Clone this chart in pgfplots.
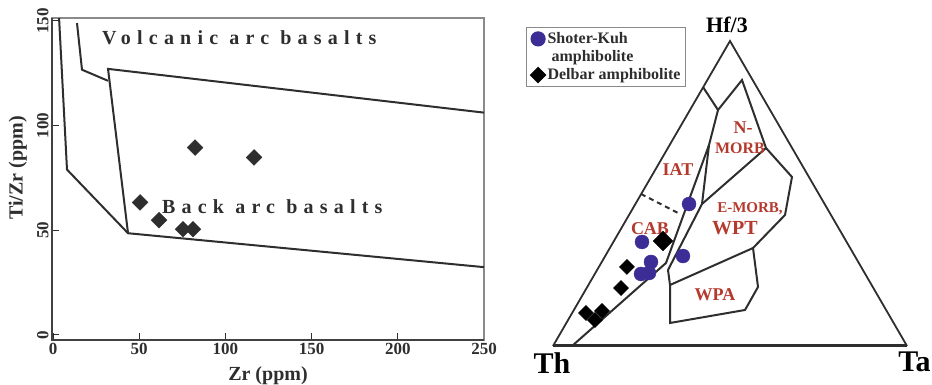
\documentclass[border=0pt]{standalone}
\usepackage{fontspec}
\setmainfont{Liberation Serif}
\newfontfamily\spaced[LetterSpace=31]{Liberation Serif}
\usepackage{pgfplots}
\pgfplotsset{compat=1.18}
\definecolor{dk}{HTML}{2E2E2E}
\definecolor{fr}{HTML}{8A8A8A}
\definecolor{blu}{HTML}{3B2C96}
\definecolor{rd}{HTML}{B5392D}
\begin{document}
\begin{tikzpicture}
\useasboundingbox (0,0) rectangle (932bp,385bp);
% ---------------- left: Ti/Zr vs Zr ----------------
\begin{axis}[at={(52bp,45bp)}, anchor=south west, scale only axis,
  width=432bp, height=322bp,
  xmin=-0.6, xmax=250, ymin=-2.4, ymax=151.4,
  xtick={0,50,100,150,200,250}, ytick={0,50,100,150},
  tick pos=left, tick align=inside, major tick length=7bp,
  axis line style={fr, line width=1.2bp},
  tick style={dk, line width=1bp},
  ticklabel style={font=\bfseries\fontsize{17bp}{17bp}\selectfont, text=dk},
  yticklabel style={rotate=90, anchor=south},
  /pgf/number format/assume math mode=true,
  xlabel={Zr (ppm)}, ylabel={Ti/Zr (ppm)},
  label style={font=\bfseries\fontsize{20bp}{20bp}\selectfont, text=dk},
  xlabel style={at={(axis description cs:0.5,-0.112)}, anchor=center},
  ylabel style={at={(axis description cs:-0.079,0.534)}, anchor=center},
  clip=false]
\draw[dk!80!fr, line width=1.5bp] (rel axis cs:0,1) -- (rel axis cs:0,0) -- (rel axis cs:1,0);
\addplot[dk, line width=2bp] coordinates {(3.5,151.4) (8.1,79) (43.5,48.6) (250,32.4)};
\addplot[dk, line width=2bp] coordinates {(13.9,149) (16.8,126.7) (31.9,121.4)};
\addplot[dk, line width=2bp] coordinates {(250,106.2) (31.9,127.1) (43.5,48.6)};
\addplot[only marks, mark=square*, mark size=5.6bp, mark options={rotate=45, fill=dk, draw=dk}]
  coordinates {(50.5,63.3) (61.5,54.8) (75.4,50.5) (81.2,50.5) (82.4,89.5) (116.6,84.8)};
\node[anchor=base west, inner sep=0, text=dk, font=\spaced\bfseries\fontsize{20bp}{20bp}\selectfont]
  at (axis cs:28.4,138.6) {Volcanic arc basalts};
\node[anchor=base west, inner sep=0, text=dk, font=\spaced\bfseries\fontsize{20bp}{20bp}\selectfont]
  at (axis cs:63.2,58.1) {Back arc basalts};
\end{axis}
% ---------------- right: Hf/3 - Th - Ta ----------------
\begin{axis}[at={(500bp,0bp)}, anchor=south west, scale only axis,
  width=432bp, height=385bp,
  xmin=-14.97, xmax=107.06, ymin=-11.02, ymax=97.74,
  hide axis, clip=false,
  legend style={at={(axis cs:-7.63,90.11)}, anchor=north west, draw=fr, line width=1.2bp,
    font=\bfseries\fontsize{16bp}{18bp}\selectfont, text=dk,
    cells={anchor=west}, inner sep=3bp, row sep=1.5bp},
  legend cell align=left]
\addplot[only marks, mark=*, mark size=7bp, mark options={fill=blu, draw=blu}]
  coordinates {(38.42,40.11) (25.14,29.38) (27.68,23.73) (24.86,20.34) (27.12,20.62) (36.72,25.42)};
\addlegendentry{Shoter-Kuh}
\addlegendimage{empty legend}
\addlegendentry{\hspace{4bp}amphibolite}
\addplot[only marks, mark=square*, mark size=5.3bp, mark options={rotate=45, fill=black, draw=black}]
  coordinates {(20.90,22.32) (19.21,16.38) (9.32,9.32) (13.84,9.89) (11.86,7.34)};
\addlegendentry{Delbar amphibolite\hspace{4bp}}
\addplot[forget plot, only marks, mark=square*, mark size=7bp, mark options={rotate=45, fill=black, draw=black}]
  coordinates {(31.07,29.66)};
% triangle
\addplot[forget plot, dk, line width=1.8bp] coordinates {(0,0) (50,86.16) (100,0)};
\addplot[forget plot, dk, line width=3bp] coordinates {(0,0) (100,0)};
% field boundaries
\addplot[forget plot, dk, line width=2bp] coordinates {(46.61,66.67) (44.07,56.78) (31.92,23.45) (5.37,0)};
\addplot[forget plot, dk, line width=2bp] coordinates {(42.37,73.16) (46.61,66.67) (53.39,75.14) (60.17,55.93) (67.51,47.74) (65.54,37.01) (56.50,27.68) (57.91,16.67) (54.24,10.17) (33.05,6.50) (33.05,17.23) (32.49,21.47) (42.09,40.11) (44.07,56.78)};
\addplot[forget plot, dk, line width=2bp] coordinates {(33.05,17.23) (56.50,27.68)};
\addplot[forget plot, dk, line width=2bp] coordinates {(60.17,55.93) (42.09,40.11)};
\addplot[forget plot, dk, line width=2bp, dash pattern=on 5bp off 4bp] coordinates {(24.86,42.94) (35.88,37.29)};
% field names
\begin{scope}[every node/.style={text=rd, font=\bfseries\fontsize{18bp}{18bp}\selectfont, inner sep=0}]
\node at (axis cs:35.31,49.72) {IAT};
\node at (axis cs:53.67,61.58) {N-};
\node[font=\bfseries\fontsize{16bp}{16bp}\selectfont] at (axis cs:52.82,55.93) {MORB};
\node[font=\bfseries\fontsize{15bp}{15bp}\selectfont] at (axis cs:55.65,38.70) {E-MORB,};
\node[font=\bfseries\fontsize{20bp}{20bp}\selectfont] at (axis cs:51.41,33.33) {WPT};
\node at (axis cs:27.40,33.05) {CAB};
\node[font=\bfseries\fontsize{18bp}{18bp}\selectfont] at (axis cs:45.76,14.41) {WPA};
\end{scope}
% apex labels
\node[text=black, font=\bfseries\fontsize{22bp}{22bp}\selectfont, inner sep=0] at (axis cs:49.15,90.68) {Hf/3};
\node[text=black, font=\bfseries\fontsize{30bp}{30bp}\selectfont, inner sep=0] at (axis cs:-0.28,-4.8) {Th};
\node[text=black, font=\bfseries\fontsize{30bp}{30bp}\selectfont, inner sep=0, anchor=east] at (axis cs:106.7,-4.52) {Ta};
\end{axis}
\end{tikzpicture}
\end{document}
